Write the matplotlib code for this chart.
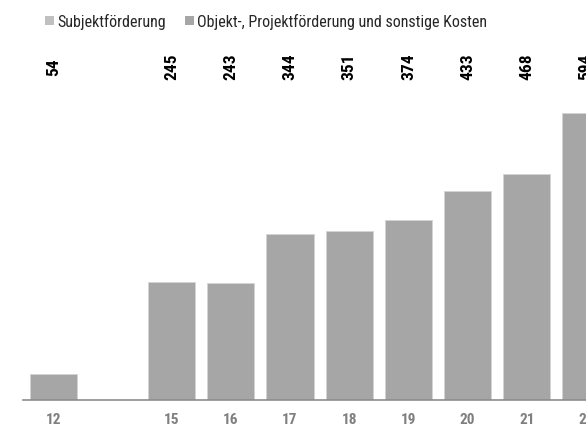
import matplotlib
matplotlib.use("Agg")
import matplotlib.pyplot as plt
import matplotlib.transforms as mtransforms
from matplotlib.patches import Patch
import numpy as np

# data (values in the bar-top labels)
years = ["12", "", "15", "16", "17", "18", "19", "20", "21", "22"]
objekt = [54, np.nan, 245, 243, 344, 351, 374, 433, 468, 594]
subjekt = [0, np.nan, 0, 0, 0, 0, 0, 0, 0, 0]
totals = [54, np.nan, 245, 243, 344, 351, 374, 433, 468, 594]

legend_labels = ["Subjektförderung", "Objekt-, Projektförderung und sonstige Kosten"]
c_subjekt = "#c0c0c0"
c_objekt = "#a6a6a6"

plt.rcParams["font.family"] = ["Roboto Condensed", "DejaVu Sans"]

fig = plt.figure(figsize=(5.86, 4.27), dpi=100)
ax = fig.add_axes([23 / 586, 26 / 427, 1 - 23 / 586, 301 / 427])

x = np.arange(len(years))
ax.bar(x, objekt, width=0.8, color=c_objekt, edgecolor="#d4d4d4", linewidth=0.6)
ax.bar(x, subjekt, bottom=objekt, width=0.8, color=c_subjekt, linewidth=0)

ax.set_xlim(-0.51, 9.0)
ax.set_ylim(0, 624)

for side in ["top", "right", "left"]:
    ax.spines[side].set_visible(False)
ax.spines["bottom"].set_color("#8c8c8c")
ax.spines["bottom"].set_linewidth(1.2)
ax.set_yticks([])
ax.set_xticks(x)
ax.set_xticklabels(years, fontsize=11, fontweight="bold", color="#7f7f7f")
ax.tick_params(axis="x", length=0, pad=9)

# totals written above the plot area, rotated
trans = mtransforms.blended_transform_factory(ax.transData, fig.transFigure)
for xi, t in zip(x, totals):
    if np.isnan(t):
        continue
    ax.text(xi, 1 - 67 / 427, f"{int(t)}", transform=trans, rotation=90,
            ha="center", va="center", fontsize=12.5, fontweight="bold",
            color="black", clip_on=False)

handles = [Patch(facecolor=c_subjekt), Patch(facecolor=c_objekt)]
fig.legend(handles, legend_labels, loc="center left", bbox_to_anchor=(45 / 586, 1 - 22 / 427),
           ncol=2, frameon=False, fontsize=11.5, handlelength=0.55, handleheight=0.55,
           handletextpad=0.2, columnspacing=1.2, borderaxespad=0, borderpad=0,
           labelcolor="#262626")

fig.savefig("out.png", dpi=100)
